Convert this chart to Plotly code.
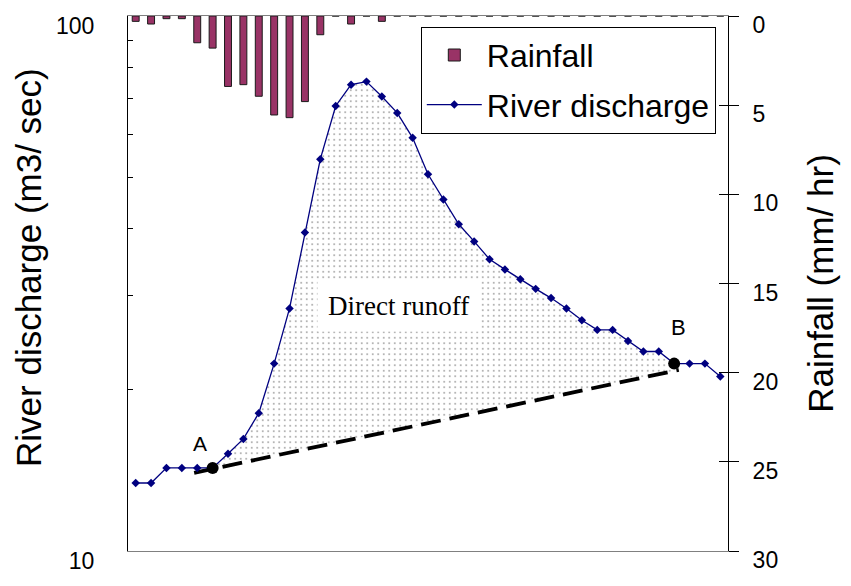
import math
import plotly.graph_objects as go

# ---------------- data ----------------
hours = list(range(1, 40))
discharge = [13.4, 13.4, 14.3, 14.3, 14.3, 14.3, 15.2, 16.2, 18.1, 22.4,
             28.4, 39.4, 54.0, 67.9, 74.4, 75.4, 70.7, 65.9, 59.2, 50.6,
             45.4, 40.8, 37.9, 35.1, 33.6, 32.2, 30.9, 29.7, 28.4, 27.0,
             25.9, 25.9, 24.7, 23.6, 23.6, 22.4, 22.4, 22.4, 21.2]
rainfall = [0.3, 0.45, 0.15, 0.15, 1.5, 1.8, 3.95, 3.85, 4.5, 5.55,
            5.7, 4.8, 1.05, 0.0, 0.45, 0.0, 0.3, 0.0, 0.0, 0.0,
            0.0, 0.0, 0.0, 0.0, 0.0, 0.0, 0.0, 0.0, 0.0, 0.0,
            0.0, 0.0, 0.0, 0.0, 0.0, 0.0, 0.0, 0.0, 0.0]
baseline_x = [4.8, 36.3]
baseline_y = [14.0, 21.8]
point_a = 6
point_b = 36
left_tickvals = [10, 20, 30, 40, 50, 60, 70, 80, 90, 100]
left_ticktext = ["10", "", "", "", "", "", "", "", "", "100"]
right_tickvals = [0, 5, 10, 15, 20, 25, 30]


def base_at(h):
    t = (h - baseline_x[0]) / (baseline_x[1] - baseline_x[0])
    l0, l1 = math.log10(baseline_y[0]), math.log10(baseline_y[1])
    return 10 ** (l0 + t * (l1 - l0))


ia, ib = point_a - 1, point_b - 1
fill_x = hours[ia:ib + 1] + [point_b, point_a]
fill_y = discharge[ia:ib + 1] + [base_at(point_b), base_at(point_a)]

SANS = "Liberation Sans, Arial"
NAVY = "#000080"

fig = go.Figure()

# direct runoff stippled area
fig.add_trace(go.Scatter(
    x=fill_x, y=fill_y, mode="lines", fill="toself",
    line=dict(width=0, color="rgba(0,0,0,0)"),
    fillcolor="rgba(255,255,255,0)",
    fillpattern=dict(shape=".", fgcolor="#333333", bgcolor="white",
                     size=5.5, solidity=0.08),
    showlegend=False, hoverinfo="skip", yaxis="y"))

# baseline (dashed)
fig.add_trace(go.Scatter(
    x=baseline_x, y=baseline_y, mode="lines",
    line=dict(color="black", width=3.8, dash="20px,9px"),
    showlegend=False, hoverinfo="skip", yaxis="y"))

# rainfall bars
fig.add_trace(go.Bar(
    x=hours, y=rainfall, name="Rainfall", yaxis="y2", width=0.45,
    marker=dict(color="#993366", line=dict(color="#1a1a1a", width=1)),
    legendrank=1, legendgroup="r"))

# river discharge
fig.add_trace(go.Scatter(
    x=hours, y=discharge, name="River discharge", mode="lines+markers",
    line=dict(color=NAVY, width=1.3),
    marker=dict(symbol="diamond", size=6.5, color=NAVY),
    yaxis="y", legendrank=2, legendgroup="q"))

# points A and B
fig.add_trace(go.Scatter(
    x=[point_a, point_b], y=[discharge[ia], discharge[ib]], mode="markers",
    marker=dict(symbol="circle", size=12, color="black"),
    showlegend=False, hoverinfo="skip", yaxis="y"))

# dummy trace for inner right ticks
fig.add_trace(go.Scatter(x=[None], y=[None], yaxis="y3", showlegend=False,
                         hoverinfo="skip"))

fig.update_layout(
    width=851, height=586,
    margin=dict(l=128, r=123, t=12, b=29),
    paper_bgcolor="white", plot_bgcolor="white",
    showlegend=True,
    xaxis=dict(range=[0.5, 39.5], showticklabels=False, ticks="",
               showgrid=False, zeroline=False, showline=True,
               linecolor="#808080", linewidth=1, mirror=True),
    yaxis=dict(type="log", range=[1, 2], tickvals=left_tickvals,
               ticktext=left_ticktext, ticks="inside", ticklen=5,
               tickcolor="black", showgrid=False, zeroline=False,
               showline=True, linecolor="black", linewidth=1,
               tickfont=dict(family=SANS, size=23, color="black"),
               ticklabelstandoff=28, ticklabelshift=10),
    yaxis2=dict(overlaying="y", side="right", range=[30, 0],
                tickvals=right_tickvals, ticks="outside", ticklen=10,
                tickcolor="black", showgrid=False, zeroline=False,
                showline=True, linecolor="black", linewidth=1,
                tickfont=dict(family=SANS, size=23, color="black"),
                ticklabelstandoff=9, ticklabelshift=-9,
                title=dict(text="Rainfall (mm/ hr)", standoff=31,
                           font=dict(family=SANS, size=35, color="black"))),
    yaxis3=dict(overlaying="y", side="right", range=[30, 0],
                tickvals=right_tickvals, ticks="inside", ticklen=9,
                tickcolor="black", showticklabels=False, showgrid=False,
                zeroline=False, showline=False),
    legend=dict(x=0.488, y=0.98, xanchor="left", yanchor="top",
                bgcolor="white", bordercolor="black", borderwidth=1,
                font=dict(family=SANS, size=32, color="black"),
                itemwidth=55, tracegroupgap=5),
    annotations=[
        dict(text="River discharge (m3/ sec)", textangle=-90,
             x=-0.165, y=0.529, xref="paper", yref="paper",
             xanchor="center", yanchor="middle", showarrow=False,
             font=dict(family=SANS, size=35, color="black")),
        dict(text="Direct runoff", x=0.45, y=0.458, xref="paper",
             yref="paper", showarrow=False, bgcolor="white", borderpad=10,
             font=dict(family="Liberation Serif, Times New Roman", size=27,
                       color="black")),
        dict(text="A", x=5.18, y=math.log10(15.9), xref="x", yref="y",
             showarrow=False,
             font=dict(family=SANS, size=21, color="black")),
        dict(text="B", x=36.25, y=math.log10(26.2), xref="x", yref="y",
             showarrow=False,
             font=dict(family=SANS, size=22, color="black")),
    ],
)

fig.write_html("out.html")
